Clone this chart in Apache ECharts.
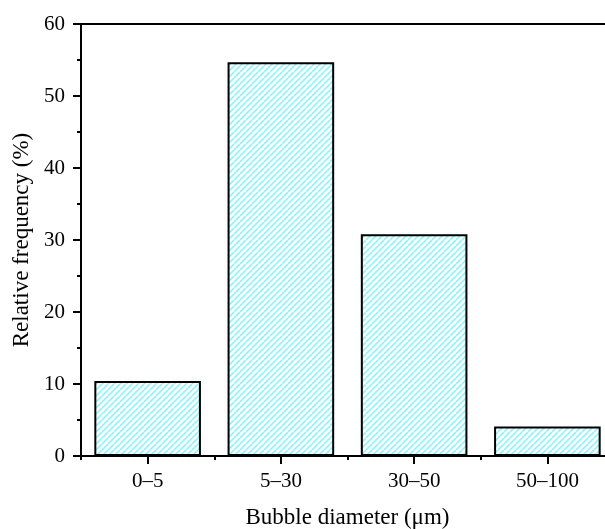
<!DOCTYPE html>
<html>
<head>
<meta charset="utf-8">
<script src="https://cdn.jsdelivr.net/npm/echarts@6/dist/echarts.min.js"></script>
<style>
  html, body { margin: 0; padding: 0; background: #fff; }
  #chart { width: 605px; height: 529px; }
</style>
</head>
<body>
<div id="chart"></div>
<script>
// Bubble size distribution
const categories = ['0–5', '5–30', '30–50', '50–100'];
const frequency = [10.4, 54.7, 30.8, 4.1];
const yTicks = [0, 10, 20, 30, 40, 50, 60];

// Diagonal cyan hatch used as the bar fill
function makeHatch() {
  const size = 6;
  const c = document.createElement('canvas');
  c.width = size; c.height = size;
  const g = c.getContext('2d');
  g.fillStyle = '#ffffff';
  g.fillRect(0, 0, size, size);
  g.strokeStyle = '#8ff3f7';
  g.lineWidth = 1.6;
  for (let k = -1; k <= 1; k++) {
    g.beginPath();
    g.moveTo(k * size, size);
    g.lineTo(k * size + size, 0);
    g.stroke();
  }
  return c;
}

const font = '"Liberation Serif", "Times New Roman", serif';
const chart = echarts.init(document.getElementById('chart'));

chart.setOption({
  backgroundColor: '#fff',
  animation: false,
  grid: {
    left: 81, top: 24, width: 533, height: 432,
    containLabel: false,
    outerBoundsMode: 'none',
    show: true, borderColor: '#000', borderWidth: 2, backgroundColor: 'transparent'
  },
  xAxis: [{
    type: 'category',
    data: categories,
    position: 'bottom',
    axisLine: { lineStyle: { color: '#000', width: 2 } },
    axisTick: { show: true, alignWithLabel: true, inside: false, length: 8, lineStyle: { color: '#000', width: 2 } },
    axisLabel: { color: '#000', fontFamily: font, fontSize: 21, margin: 15 },
    name: 'Bubble diameter (μm)',
    nameLocation: 'middle',
    nameGap: 50,
    nameTextStyle: { color: '#000', fontFamily: font, fontSize: 23 }
  }, {
    type: 'category',
    data: categories,
    position: 'bottom',
    axisLine: { show: false },
    axisTick: { show: true, alignWithLabel: false, length: 4, lineStyle: { color: '#000', width: 2 } },
    axisLabel: { show: false },
    splitLine: { show: false }
  }],
  yAxis: {
    type: 'value',
    min: yTicks[0],
    max: yTicks[yTicks.length - 1],
    interval: 10,
    axisLine: { show: true, lineStyle: { color: '#000', width: 2 } },
    axisTick: { show: true, inside: false, length: 8, lineStyle: { color: '#000', width: 2 } },
    minorTick: { show: true, splitNumber: 2, length: 4, lineStyle: { color: '#000', width: 2 } },
    splitLine: { show: false },
    axisLabel: { color: '#000', fontFamily: font, fontSize: 21, margin: 16 },
    name: 'Relative frequency (%)',
    nameLocation: 'middle',
    nameGap: 48,
    nameTextStyle: { color: '#000', fontFamily: font, fontSize: 23 }
  },
  series: [{
    type: 'bar',
    data: frequency,
    barWidth: '80%',
    itemStyle: {
      color: { image: makeHatch(), repeat: 'repeat' },
      borderColor: '#000',
      borderWidth: 2
    }
  }]
});
</script>
</body>
</html>
